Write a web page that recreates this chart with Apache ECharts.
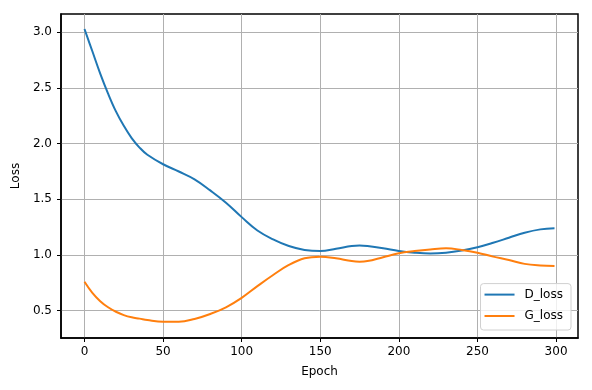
<!DOCTYPE html>
<html>
<head>
<meta charset="utf-8">
<script src="https://cdn.jsdelivr.net/npm/echarts@6/dist/echarts.min.js"></script>
<style>
html,body{margin:0;padding:0;background:#fff;}
#chart{width:592px;height:390px;}
</style>
</head>
<body>
<div id="chart"></div>
<script>
// Epochs at which values were read
const epochs = [0,5,10,15,20,25,30,35,40,50,60,70,80,90,100,110,120,130,140,150,160,170,175,180,190,200,210,220,230,240,250,260,270,280,290,299];
const dLoss  = [3.03,2.83,2.63,2.45,2.29,2.16,2.05,1.965,1.90,1.815,1.75,1.68,1.58,1.47,1.34,1.22,1.14,1.08,1.045,1.035,1.055,1.08,1.085,1.08,1.06,1.035,1.02,1.013,1.02,1.04,1.07,1.11,1.155,1.20,1.23,1.24];
const gLoss  = [0.76,0.66,0.585,0.53,0.49,0.46,0.44,0.428,0.415,0.40,0.40,0.425,0.47,0.53,0.615,0.72,0.82,0.91,0.97,0.985,0.97,0.945,0.94,0.945,0.98,1.015,1.035,1.05,1.06,1.045,1.02,0.985,0.955,0.92,0.905,0.90];
const seriesNames = ['D_loss','G_loss'];
const xTicks = [0,50,100,150,200,250,300];
const yTicks = [0.5,1.0,1.5,2.0,2.5,3.0];

const pair = (arr) => epochs.map((e,i) => [e, arr[i]]);
const font = 'DejaVu Sans';
const chart = echarts.init(document.getElementById('chart'), null, {renderer:'canvas'});
chart.setOption({
  animation:false,
  backgroundColor:'#fff',
  textStyle:{fontFamily:font},
  grid:{left:61,right:14,top:14,bottom:52,show:true,borderColor:'#000',borderWidth:1.5,backgroundColor:'#fff'},
  legend:{
    orient:'vertical',right:21,bottom:60,
    data:seriesNames,
    icon:'path://M0,0H30V2H0Z',
    itemWidth:30,itemHeight:2,itemGap:7.4,
    padding:[4,8,7,4],
    backgroundColor:'rgba(255,255,255,0.8)',
    borderColor:'#d0d0d0',borderWidth:1,borderRadius:3,
    textStyle:{fontFamily:font,fontSize:12,color:'#000',padding:[0,0,0,5],lineHeight:14}
  },
  xAxis:{
    type:'value',min:-14.95,max:313.95,
    name:'Epoch',nameLocation:'middle',nameGap:28,
    nameTextStyle:{fontFamily:font,fontSize:12,color:'#000'},
    axisLine:{show:true,onZero:false,lineStyle:{color:'#000',width:1.5}},
    axisTick:{show:true,customValues:xTicks,length:4,lineStyle:{color:'#000',width:1}},
    axisLabel:{customValues:xTicks,margin:8,fontFamily:font,fontSize:12,color:'#000'},
    splitLine:{show:true,lineStyle:{color:'#b0b0b0',width:1}}
  },
  yAxis:{
    type:'value',min:0.254,max:3.165,
    name:'Loss',nameLocation:'middle',nameGap:38,nameRotate:90,
    nameTextStyle:{fontFamily:font,fontSize:12,color:'#000'},
    axisLine:{show:true,onZero:false,lineStyle:{color:'#000',width:1.5}},
    axisTick:{show:true,customValues:yTicks,length:4,lineStyle:{color:'#000',width:1}},
    axisLabel:{customValues:yTicks,margin:9,fontFamily:font,fontSize:12,color:'#000',formatter:(v)=>v.toFixed(1)},
    splitLine:{show:true,lineStyle:{color:'#b0b0b0',width:1}}
  },
  series:[
    {name:seriesNames[0],type:'line',data:pair(dLoss),smooth:0.4,symbol:'none',lineStyle:{color:'#1f77b4',width:2},itemStyle:{color:'#1f77b4'},z:3},
    {name:seriesNames[1],type:'line',data:pair(gLoss),smooth:0.4,symbol:'none',lineStyle:{color:'#ff7f0e',width:2},itemStyle:{color:'#ff7f0e'},z:4}
  ]
});
</script>
</body>
</html>
